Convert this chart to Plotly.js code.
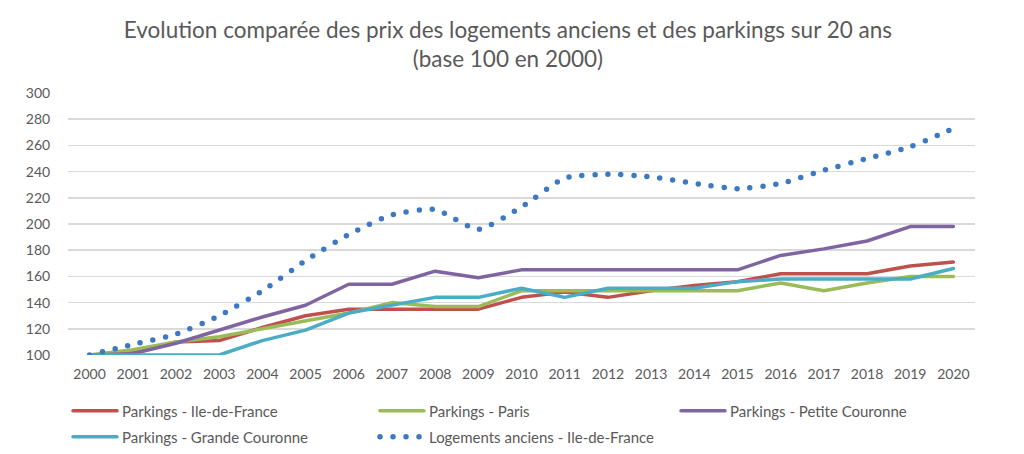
<!DOCTYPE html>
<html>
<head>
<meta charset="utf-8">
<script src="https://cdn.plot.ly/plotly-3.0.1.min.js"></script>
<style>
  html, body { margin: 0; padding: 0; background: #fff; }
  #chart { width: 1024px; height: 454px; }
  path.js-line { stroke-linecap: round; stroke-linejoin: round; }
</style>
</head>
<body>
<div id="chart"></div>
<script>
const years = [2000,2001,2002,2003,2004,2005,2006,2007,2008,2009,2010,2011,2012,2013,2014,2015,2016,2017,2018,2019,2020];
const parkingsIdf     = [100,102,110,111,121,130,135,135,135,135,144,148,144,149,153,156,162,162,162,168,171];
const parkingsParis   = [100,104,110,114,120,126,132,140,137,137,149,149,149,149,149,149,155,149,155,160,160];
const parkingsPetite  = [100,101,109,119,129,138,154,154,164,159,165,165,165,165,165,165,176,181,187,198,198];
const parkingsGrande  = [100,100,100,100,111,119,132,138,144,144,151,144,151,151,151,156,158,158,158,158,166];
const logementsIdf    = [100,108,116,130,149,172,192,207,211,196,213,235,238,236,231,227,231,241,250,259,273];
const yTicks = [100,120,140,160,180,200,220,240,260,280,300];

const FONT = 'Lato, "Open Sans", sans-serif';
const solid = (name, y, color, legend) => ({
  type: 'scatter', mode: 'lines', name: name, x: years, y: y,
  line: {color: color, width: 3.5}, legend: legend, hoverinfo: 'skip'
});

const traces = [
  solid('Parkings - Ile-de-France', parkingsIdf, '#C0504D', 'legend'),
  solid('Parkings - Paris', parkingsParis, '#9BBB59', 'legend'),
  solid('Parkings - Petite Couronne', parkingsPetite, '#8064A2', 'legend3'),
  solid('Parkings - Grande Couronne', parkingsGrande, '#4BACC6', 'legend2'),
  {
    type: 'scatter', mode: 'lines', name: 'Logements anciens - Ile-de-France',
    x: years, y: logementsIdf, legend: 'legend2', hoverinfo: 'skip',
    line: {color: '#3D79C2', width: 5.5, dash: '0px,13px', shape: 'spline', smoothing: 0.6}
  }
];

const legendBase = {
  orientation: 'h', xref: 'container', yref: 'container',
  xanchor: 'left', yanchor: 'middle', bgcolor: 'rgba(0,0,0,0)',
  font: {family: FONT, size: 15, color: '#595959'},
  entrywidth: 248, entrywidthmode: 'pixels', itemwidth: 44, traceorder: 'normal'
};

const layout = {
  width: 1024, height: 454,
  margin: {l: 68, r: 49, t: 93, b: 99, pad: 0},
  paper_bgcolor: '#ffffff', plot_bgcolor: '#ffffff',
  font: {family: FONT, color: '#595959'},
  title: {
    text: 'Evolution comparée des prix des logements anciens et des parkings sur 20 ans<br>(base 100 en 2000)',
    font: {family: FONT, size: 22.5, color: '#595959'},
    xref: 'container', x: 0.496, xanchor: 'center',
    yref: 'container', y: 1 - 38/454, yanchor: 'top'
  },
  xaxis: {
    type: 'linear', range: [1999.5, 2020.5], tickmode: 'array', tickvals: years,
    ticktext: years.map(String), showgrid: false, zeroline: false, showline: false,
    ticks: 'outside', ticklen: 6, tickcolor: 'rgba(0,0,0,0)',
    tickfont: {family: FONT, size: 14, color: '#595959'}, fixedrange: true
  },
  yaxis: {
    range: [100, 300], tickmode: 'array', tickvals: yTicks,
    showgrid: true, gridcolor: '#d9d9d9', gridwidth: 1.5, zeroline: false, showline: false,
    ticks: 'outside', ticklen: 14, tickcolor: 'rgba(0,0,0,0)',
    tickfont: {family: FONT, size: 14, color: '#595959'}, fixedrange: true
  },
  showlegend: true,
  legend: Object.assign({}, legendBase, {x: 68/1024, y: 1 - 411/454}),
  legend3: Object.assign({}, legendBase, {x: 676/1024, y: 1 - 411/454}),
  legend2: Object.assign({}, legendBase, {x: 68/1024, y: 1 - 437/454})
};

Plotly.newPlot('chart', traces, layout, {displayModeBar: false, staticPlot: true});
</script>
</body>
</html>
